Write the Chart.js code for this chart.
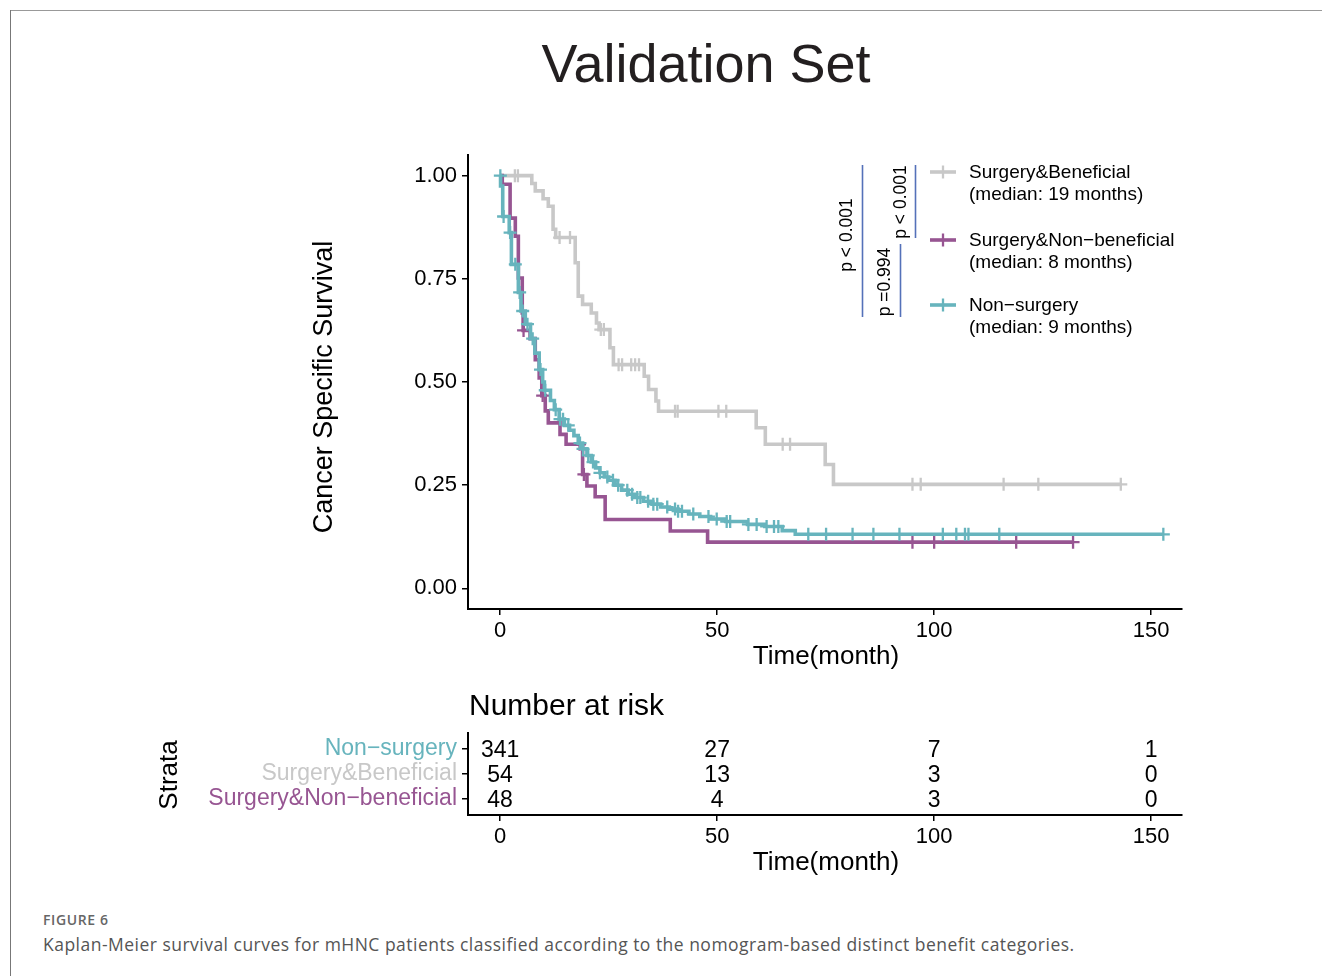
<!DOCTYPE html>
<html>
<head>
<meta charset="utf-8">
<title>Validation Set</title>
<script src="https://cdn.jsdelivr.net/npm/chart.js@4.4.1/dist/chart.umd.min.js"></script>
<style>
  body { margin: 0; background: #fff; }
  #page { position: relative; width: 1322px; height: 976px; overflow: hidden; background: #fff; }
  .frame-top { position: absolute; left: 10px; top: 10px; right: 0; border-top: 1px solid #999; }
  .frame-left { position: absolute; left: 10px; top: 10px; bottom: 0; border-left: 1px solid #777; }
  canvas { position: absolute; left: 0; }
  #km { top: 0; }
  #risk { top: 680px; }
  .fig-label { position: absolute; left: 43px; top: 910px; font: 600 14px "Open Sans", sans-serif; letter-spacing: 0.6px; color: #666; }
  .caption { position: absolute; left: 43px; top: 932px; font: 17.5px "Open Sans", sans-serif; letter-spacing: 0.48px; color: #555; white-space: nowrap; }
</style>
</head>
<body>
<div id="page">
  <div class="frame-top"></div>
  <div class="frame-left"></div>
  <canvas id="km" width="1322" height="690"></canvas>
  <canvas id="risk" width="1322" height="210"></canvas>
  <div class="fig-label">FIGURE 6</div>
  <div class="caption">Kaplan-Meier survival curves for mHNC patients classified according to the nomogram-based distinct benefit categories.</div>
</div>

<script>
// ---- data ----
const strata = ['Surgery&Beneficial', 'Surgery&Non\u2212beneficial', 'Non\u2212surgery'];
const medians = [19, 8, 9];

// Surgery&Beneficial
const benTimes = [0, 7.3, 8.1, 9.9, 11.1, 12.2, 12.8, 17.3, 18.0, 19.0, 21.0, 22.2, 22.8, 25.3, 26.1, 33.2, 34.2, 35.9, 36.5, 59.0, 61.1, 74.9, 76.8, 143];
const benSurv = [1, 0.981, 0.963, 0.944, 0.926, 0.87, 0.85, 0.789, 0.708, 0.688, 0.667, 0.643, 0.627, 0.583, 0.542, 0.514, 0.482, 0.454, 0.429, 0.389, 0.349, 0.300, 0.252, 0.252];
const benCensor = [3.4, 4.1, 13.7, 16.1, 23.2, 23.9, 27.3, 28.1, 30.2, 31.1, 32.0, 40.3, 40.9, 50.3, 52.1, 65.1, 66.8, 95, 96.9, 116, 124, 143];

// Surgery&Non-beneficial
const nonBenTimes = [0, 0.5, 2.3, 3.5, 4.2, 5.1, 5.3, 6.9, 8.1, 9.0, 9.6, 10.4, 11.1, 13.8, 15.2, 19.0, 20.0, 21.9, 24.2, 39.2, 47.8, 132];
const nonBenSurv = [1, 0.979, 0.897, 0.853, 0.752, 0.667, 0.625, 0.605, 0.554, 0.51, 0.467, 0.43, 0.401, 0.373, 0.349, 0.276, 0.248, 0.222, 0.167, 0.139, 0.112, 0.112];
const nonBenCensor = [5.4, 9.8, 18.3, 19.3, 95, 100, 118.9, 132];

// Non-surgery
const nsTimes = [0, 0.1, 0.6, 2.1, 2.6, 4.2, 4.8, 5.8, 7.0, 8.0, 9.0, 9.8, 10.2, 11.6, 12.5, 13.6, 14.8, 16.0, 17.0, 18.0, 19.0, 20.0, 21.0, 22.0, 23.0, 24.0, 25.0, 26.5, 28.0, 29.5, 31.0, 33.0, 35.0, 37.0, 39.0, 41.0, 43.5, 46.0, 48.5, 52.0, 57.0, 61.0, 65.0, 68.0, 152.8];
const nsSurv = [1, 0.975, 0.901, 0.862, 0.785, 0.717, 0.672, 0.640, 0.605, 0.570, 0.530, 0.500, 0.480, 0.455, 0.433, 0.410, 0.395, 0.383, 0.370, 0.352, 0.338, 0.322, 0.306, 0.292, 0.280, 0.270, 0.262, 0.250, 0.238, 0.228, 0.220, 0.211, 0.204, 0.197, 0.192, 0.187, 0.180, 0.174, 0.168, 0.162, 0.155, 0.150, 0.140, 0.131, 0.131];
const nsCensor = [0.05, 0.8, 2.3, 3.5, 4.5, 5.2, 6.3, 7.5, 9.3, 10.4, 12.8, 13.8, 14.5, 15.7, 18.4, 19.1, 20.3, 21.4, 23, 24.7, 26, 27.2, 29.3, 30.4, 31.6, 32.3, 34.1, 35.3, 36.2, 38.5, 40.3, 41, 41.9, 44.5, 48, 49.9, 52.2, 53, 57.2, 59.1, 61.4, 63.1, 64.1, 71, 75.1, 81.2, 86, 92, 102, 105.1, 107.1, 107.9, 115, 152.8];

// number at risk table
const riskTimes = [0, 50, 100, 150];
const riskRows = ['Non\u2212surgery', 'Surgery&Beneficial', 'Surgery&Non\u2212beneficial'];
const riskNonSurgery = [341, 27, 7, 1];
const riskBeneficial = [54, 13, 3, 0];
const riskNonBeneficial = [48, 4, 3, 0];

const xTicks = [0, 50, 100, 150];
const yTicks = [0, 0.25, 0.5, 0.75, 1];

// ---- styling ----
const FONT = '"Liberation Sans", Arial, Helvetica, sans-serif';
const GREY = '#c8c8c8';
const PURPLE = '#975592';
const TEAL = '#67b4bd';
const PBLUE = '#5471b9';
const X_MIN = -7.4, X_MAX = 157.1;
const LINE_W = 3.6;

function kmPoints(times, surv) {
  return times.map((t, i) => ({ x: t, y: surv[i] }));
}

function survAt(times, surv, t) {
  let s = surv[0];
  for (let i = 0; i < times.length; i++) {
    if (times[i] <= t) s = surv[i];
  }
  return s;
}

function censorPoints(times, surv, cens) {
  return cens.map(t => ({ x: t, y: survAt(times, surv, t) }));
}

function curve(times, surv, color, order) {
  return { data: kmPoints(times, surv), showLine: true, stepped: 'before', borderColor: color,
    borderWidth: LINE_W, pointRadius: 0, pointHoverRadius: 0, fill: false, order };
}

function censors(times, surv, cens, color, order) {
  return { data: censorPoints(times, surv, cens), showLine: false, pointStyle: 'cross', pointRadius: 6.5,
    borderColor: color, borderWidth: 2.3, backgroundColor: color, order };
}

function axisTicksStyle() {
  return { display: true, drawOnChartArea: false, drawTicks: true, tickLength: 6, color: '#000', lineWidth: 1.5 };
}

// titles, legend and p-value brackets of the survival panel
const kmDecor = {
  id: 'kmDecor',
  afterDraw(chart) {
    const ctx = chart.ctx;
    ctx.save();
    ctx.fillStyle = '#231f20';
    ctx.textAlign = 'center';
    ctx.textBaseline = 'middle';
    ctx.font = `54px ${FONT}`;
    ctx.fillText('Validation Set', 706, 67);

    ctx.fillStyle = '#000';
    ctx.font = `26px ${FONT}`;
    ctx.fillText('Time(month)', 826, 657);

    ctx.save();
    ctx.translate(325, 387);
    ctx.rotate(-Math.PI / 2);
    ctx.font = `27px ${FONT}`;
    ctx.fillText('Cancer Specific Survival', 0, 0);
    ctx.restore();

    // legend
    const colors = [GREY, PURPLE, TEAL];
    const rowsY = [172, 240, 305];
    ctx.textAlign = 'left';
    ctx.font = `19px ${FONT}`;
    strata.forEach((name, i) => {
      const y = rowsY[i];
      ctx.strokeStyle = colors[i];
      ctx.lineWidth = LINE_W;
      ctx.beginPath();
      ctx.moveTo(930, y); ctx.lineTo(956, y);
      ctx.stroke();
      ctx.lineWidth = 2.3;
      ctx.beginPath();
      ctx.moveTo(943, y - 6.5); ctx.lineTo(943, y + 6.5);
      ctx.stroke();
      ctx.fillStyle = '#000';
      ctx.fillText(name, 969, y + 1);
      ctx.fillText(`(median: ${medians[i]} months)`, 969, y + 23);
    });

    // p-value brackets
    ctx.strokeStyle = PBLUE;
    ctx.lineWidth = 1.6;
    [[862.5, 165, 317], [915.5, 165, 238], [900.5, 244, 317]].forEach(([x, y0, y1]) => {
      ctx.beginPath();
      ctx.moveTo(x, y0); ctx.lineTo(x, y1);
      ctx.stroke();
    });
    ctx.fillStyle = '#000';
    ctx.font = `17.5px ${FONT}`;
    ctx.textAlign = 'center';
    [['p < 0.001', 847, 235], ['p < 0.001', 901, 202], ['p =0.994', 885, 282]].forEach(([t, x, y]) => {
      ctx.save();
      ctx.translate(x, y);
      ctx.rotate(-Math.PI / 2);
      ctx.fillText(t, 0, 0);
      ctx.restore();
    });
    ctx.restore();
  }
};

new Chart(document.getElementById('km'), {
  type: 'scatter',
  data: {
    datasets: [
      curve(nsTimes, nsSurv, TEAL, 1),
      censors(nsTimes, nsSurv, nsCensor, TEAL, 1),
      curve(nonBenTimes, nonBenSurv, PURPLE, 2),
      censors(nonBenTimes, nonBenSurv, nonBenCensor, PURPLE, 2),
      curve(benTimes, benSurv, GREY, 3),
      censors(benTimes, benSurv, benCensor, GREY, 3)
    ]
  },
  options: {
    responsive: false,
    animation: false,
    devicePixelRatio: 1,
    layout: { padding: { left: 0, top: 155, right: 140, bottom: 0 } },
    plugins: { legend: { display: false }, tooltip: { enabled: false }, title: { display: false } },
    scales: {
      x: {
        type: 'linear', min: X_MIN, max: X_MAX,
        afterBuildTicks: s => { s.ticks = xTicks.map(v => ({ value: v })); },
        afterFit: s => { s.height = 81; },
        ticks: { font: { family: FONT, size: 22 }, color: '#000', padding: 3, maxRotation: 0 },
        grid: axisTicksStyle(),
        border: { display: true, color: '#000', width: 2 }
      },
      y: {
        type: 'linear', min: -0.05, max: 1.05,
        afterBuildTicks: s => { s.ticks = yTicks.map(v => ({ value: v })); },
        afterFit: s => { s.width = 468; },
        ticks: { font: { family: FONT, size: 22 }, color: '#000', padding: 5, callback: v => v.toFixed(2) },
        grid: axisTicksStyle(),
        border: { display: true, color: '#000', width: 2 }
      }
    }
  },
  plugins: [kmDecor]
});

// ---- number at risk table ----
const riskColors = [TEAL, GREY, PURPLE];
const riskCounts = [riskNonSurgery, riskBeneficial, riskNonBeneficial];

const riskDecor = {
  id: 'riskDecor',
  afterDatasetsDraw(chart) {
    const ctx = chart.ctx;
    ctx.save();
    ctx.fillStyle = '#000';
    ctx.textAlign = 'center';
    ctx.textBaseline = 'middle';
    ctx.font = `23px ${FONT}`;
    chart.data.datasets.forEach((ds, di) => {
      const meta = chart.getDatasetMeta(di);
      meta.data.forEach((pt, i) => ctx.fillText(String(ds.data[i].n), pt.x, pt.y + 2));
    });

    ctx.textAlign = 'left';
    ctx.font = `30px ${FONT}`;
    ctx.fillText('Number at risk', 469, 27);

    ctx.textAlign = 'center';
    ctx.font = `26px ${FONT}`;
    ctx.fillText('Time(month)', 826, 183);

    ctx.save();
    ctx.translate(170, 95);
    ctx.rotate(-Math.PI / 2);
    ctx.font = `26px ${FONT}`;
    ctx.fillText('Strata', 0, 0);
    ctx.restore();
    ctx.restore();
  }
};

new Chart(document.getElementById('risk'), {
  type: 'scatter',
  data: {
    datasets: riskCounts.map((counts, r) => ({
      data: riskTimes.map((t, i) => ({ x: t, y: r + 1, n: counts[i] })),
      pointRadius: 0, pointHoverRadius: 0
    }))
  },
  options: {
    responsive: false,
    animation: false,
    devicePixelRatio: 1,
    layout: { padding: { left: 0, top: 53, right: 140, bottom: 0 } },
    plugins: { legend: { display: false }, tooltip: { enabled: false } },
    scales: {
      x: {
        type: 'linear', min: X_MIN, max: X_MAX,
        afterBuildTicks: s => { s.ticks = riskTimes.map(v => ({ value: v })); },
        afterFit: s => { s.height = 75; },
        ticks: { font: { family: FONT, size: 22 }, color: '#000', padding: 3, maxRotation: 0 },
        grid: axisTicksStyle(),
        border: { display: true, color: '#000', width: 2 }
      },
      y: {
        type: 'linear', min: 0.36, max: 3.64, reverse: true,
        afterBuildTicks: s => { s.ticks = riskRows.map((_, i) => ({ value: i + 1 })); },
        afterFit: s => { s.width = 468; },
        ticks: {
          font: { family: FONT, size: 23 }, padding: 5,
          color: c => riskColors[c.index],
          callback: v => riskRows[v - 1]
        },
        grid: axisTicksStyle(),
        border: { display: true, color: '#000', width: 2 }
      }
    }
  },
  plugins: [riskDecor]
});
</script>
</body>
</html>
